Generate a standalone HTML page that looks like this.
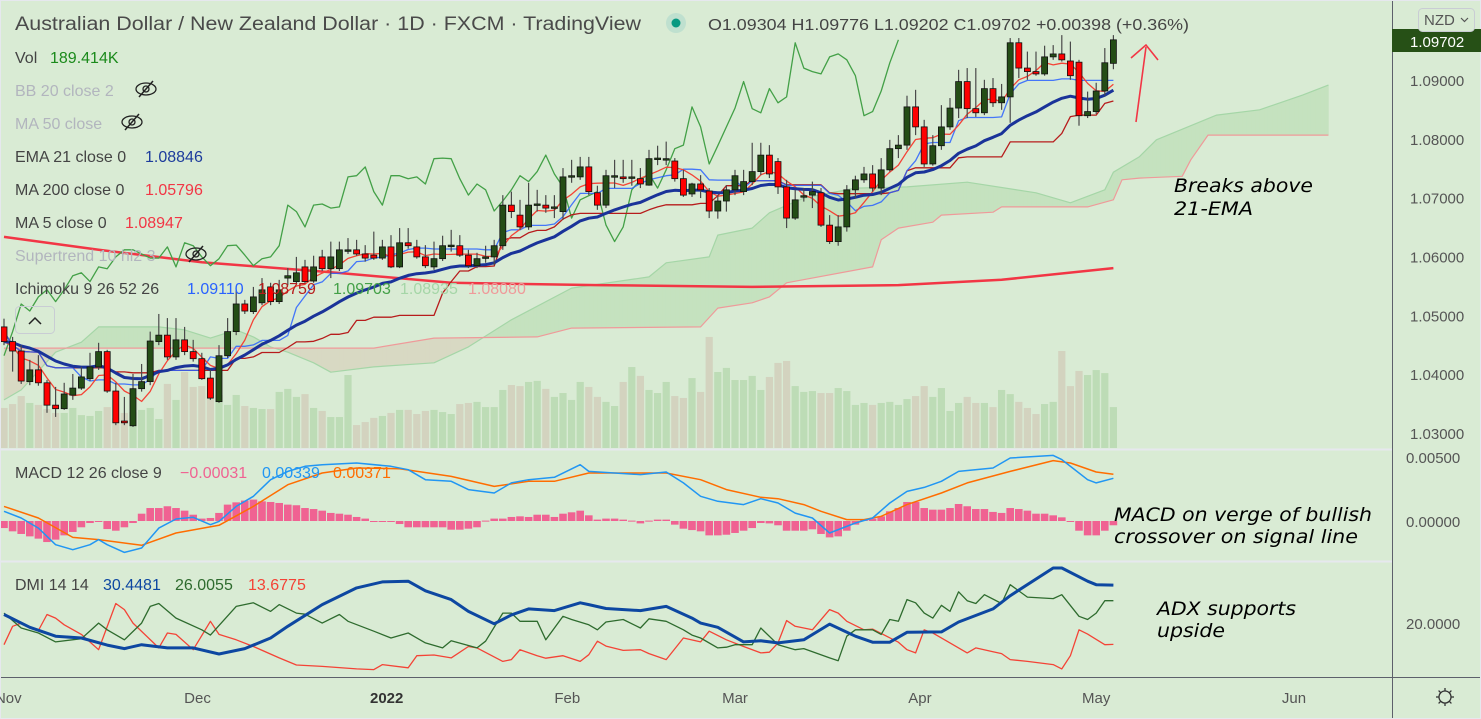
<!DOCTYPE html>
<html><head><meta charset="utf-8">
<style>
html,body{margin:0;padding:0;background:#d9ebd4;}
svg{display:block;font-family:"Liberation Sans","DejaVu Sans",sans-serif;}
</style></head>
<body>
<svg id="chart" width="1481" height="719" viewBox="0 0 1481 719" xmlns="http://www.w3.org/2000/svg">
<rect x="0" y="0" width="1481" height="719" fill="#d9ebd4"/>
<defs>
<clipPath id="mainClip"><rect x="0" y="0" width="1392" height="449"/></clipPath>
<clipPath id="macdClip"><rect x="0" y="450" width="1392" height="111"/></clipPath>
<clipPath id="dmiClip"><rect x="0" y="562" width="1392" height="115"/></clipPath>
</defs>
<g id="vol" clip-path="url(#mainClip)"></g>
<g id="cloud" clip-path="url(#mainClip)"></g>
<g id="lines" clip-path="url(#mainClip)"></g>
<g id="candles" clip-path="url(#mainClip)"></g>
<g id="macd" clip-path="url(#macdClip)"></g>
<g id="dmi" clip-path="url(#dmiClip)"></g>

<line x1="0" y1="449.5" x2="1392" y2="449.5" stroke="#e6e8ee" stroke-width="2"/>
<line x1="0" y1="561.5" x2="1392" y2="561.5" stroke="#e6e8ee" stroke-width="2"/>
<line x1="1392.5" y1="0" x2="1392.5" y2="719" stroke="#5d606b" stroke-width="1"/>
<line x1="0" y1="677.5" x2="1481" y2="677.5" stroke="#5d606b" stroke-width="1"/>
<rect x="0.5" y="0.5" width="1480" height="718" fill="none" stroke="#e6e8ee"/>

<g font-size="16" fill="#444">
<text x="15" y="30" font-size="19" fill="#4a4a4a" textLength="626" lengthAdjust="spacingAndGlyphs">Australian Dollar / New Zealand Dollar · 1D · FXCM · TradingView</text>
<circle cx="676" cy="23" r="10" fill="#bfe0cf"/>
<circle cx="676" cy="23" r="4.5" fill="#089981"/>
<text x="708" y="30" font-size="16" fill="#444" textLength="481" lengthAdjust="spacingAndGlyphs">O1.09304 H1.09776 L1.09202 C1.09702 +0.00398 (+0.36%)</text>
<text x="15" y="63"><tspan>Vol</tspan><tspan x="50" fill="#1b8a1b">189.414K</tspan></text>
<text x="15" y="96" fill="#b2b5be">BB 20 close 2</text>
<g transform="translate(146,89)"><ellipse rx="10" ry="6" fill="none" stroke="#222" stroke-width="1.3"/><circle r="3" fill="none" stroke="#222" stroke-width="1.3"/><line x1="-7" y1="8" x2="7" y2="-8" stroke="#222" stroke-width="1.5"/></g>
<text x="15" y="129" fill="#b2b5be">MA 50 close</text>
<g transform="translate(132,122)"><ellipse rx="10" ry="6" fill="none" stroke="#222" stroke-width="1.3"/><circle r="3" fill="none" stroke="#222" stroke-width="1.3"/><line x1="-7" y1="8" x2="7" y2="-8" stroke="#222" stroke-width="1.5"/></g>
<text x="15" y="162">EMA 21 close 0<tspan x="145" fill="#1c3b9c">1.08846</tspan></text>
<text x="15" y="195">MA 200 close 0<tspan x="145" fill="#f23645">1.05796</tspan></text>
<text x="15" y="228">MA 5 close 0<tspan x="125" fill="#f23645">1.08947</tspan></text>
<text x="15" y="261" fill="#b2b5be">Supertrend 10 hl2 3</text>
<g transform="translate(196,254)"><ellipse rx="10" ry="6" fill="none" stroke="#222" stroke-width="1.3"/><circle r="3" fill="none" stroke="#222" stroke-width="1.3"/><line x1="-7" y1="8" x2="7" y2="-8" stroke="#222" stroke-width="1.5"/></g>
<text x="15" y="294">Ichimoku 9 26 52 26<tspan x="187" fill="#2962ff">1.09110</tspan><tspan x="258" fill="#b71c1c">1.08759</tspan><tspan x="333" fill="#43a047">1.09703</tspan><tspan x="400" fill="#a5d6a7">1.08935</tspan><tspan x="468" fill="#ef9a9a">1.08080</tspan></text>
<rect x="15.5" y="306.5" width="39" height="27" rx="4" fill="none" stroke="#c9ccd4"/>
<path d="M29 324 L35 318 L41 324" fill="none" stroke="#222" stroke-width="1.5"/>
<text x="15" y="478">MACD 12 26 close 9<tspan x="180" fill="#f06292">−0.00031</tspan><tspan x="262" fill="#2196f3">0.00339</tspan><tspan x="333" fill="#ff6d00">0.00371</tspan></text>
<text x="15" y="590">DMI 14 14<tspan x="103" fill="#0d47a1">30.4481</tspan><tspan x="175" fill="#2e6b2e">26.0055</tspan><tspan x="248" fill="#f44336">13.6775</tspan></text>
</g>

<g font-family="DejaVu Sans, sans-serif" font-style="italic" font-size="19" fill="#000">
<text x="1174" y="192" textLength="139" lengthAdjust="spacingAndGlyphs">Breaks above</text>
<text x="1174" y="215" textLength="79" lengthAdjust="spacingAndGlyphs">21-EMA</text>
<text x="1114" y="521" textLength="258" lengthAdjust="spacingAndGlyphs">MACD on verge of bullish</text>
<text x="1114" y="543" textLength="244" lengthAdjust="spacingAndGlyphs">crossover on signal line</text>
<text x="1157" y="615" textLength="139" lengthAdjust="spacingAndGlyphs">ADX supports</text>
<text x="1157" y="637" textLength="68" lengthAdjust="spacingAndGlyphs">upside</text>
</g>
<g stroke="#f23645" stroke-width="1.6" fill="none">
<line x1="1136" y1="122" x2="1146" y2="47"/>
<path d="M1131 58 L1146 45 L1158 60"/>
</g>

<g id="paxis" font-size="15" fill="#555"></g>
<rect x="1392" y="29" width="89" height="23" fill="#265016"/>
<text x="1410" y="47" font-size="15" fill="#fff">1.09702</text>
<g>
<rect x="1418.5" y="8.5" width="56" height="23" rx="4" fill="#d9ebd4" stroke="#c9ccd4"/>
<text x="1424" y="25" font-size="15" fill="#555">NZD</text>
<path d="M1461 18 L1464.5 21.5 L1468 18" fill="none" stroke="#555" stroke-width="1.2"/>
</g>
<text x="1406" y="463" font-size="15" fill="#555">0.00500</text>
<text x="1406" y="527" font-size="15" fill="#555">0.00000</text>
<text x="1406" y="629" font-size="15" fill="#555">20.0000</text>

<g id="taxis" font-size="15" fill="#555"></g>
<g transform="translate(1445,697)" stroke="#333" stroke-width="1.3" fill="none">
<circle r="6"/>
<line x1="0" y1="-9" x2="0" y2="-6"/><line x1="0" y1="6" x2="0" y2="9"/>
<line x1="-9" y1="0" x2="-6" y2="0"/><line x1="6" y1="0" x2="9" y2="0"/>
<line x1="-6.4" y1="-6.4" x2="-4.2" y2="-4.2"/><line x1="4.2" y1="4.2" x2="6.4" y2="6.4"/>
<line x1="6.4" y1="-6.4" x2="4.2" y2="-4.2"/><line x1="-4.2" y1="4.2" x2="-6.4" y2="6.4"/>
</g>
</svg>
<script>
const openP = [1.0482,1.0457,1.0441,1.0389,1.0409,1.0387,1.0349,1.0343,1.0366,1.0378,1.0394,1.0414,1.0440,1.0373,1.0322,1.0314,1.0377,1.0389,1.0457,1.0468,1.0431,1.0460,1.0440,1.0428,1.0395,1.0355,1.0433,1.0474,1.0521,1.0508,1.0523,1.0550,1.0525,1.0565,1.0559,1.0584,1.0560,1.0601,1.0581,1.0581,1.0611,1.0613,1.0606,1.0604,1.0599,1.0618,1.0584,1.0625,1.0618,1.0601,1.0584,1.0598,1.0620,1.0620,1.0604,1.0586,1.0599,1.0601,1.0620,1.0689,1.0672,1.0652,1.0689,1.0689,1.0684,1.0678,1.0737,1.0737,1.0754,1.0710,1.0689,1.0737,1.0737,1.0735,1.0734,1.0723,1.0768,1.0766,1.0764,1.0734,1.0708,1.0725,1.0713,1.0679,1.0696,1.0715,1.0712,1.0729,1.0746,1.0774,1.0763,1.0720,1.0667,1.0703,1.0706,1.0710,1.0655,1.0627,1.0652,1.0715,1.0732,1.0742,1.0718,1.0749,1.0785,1.0791,1.0856,1.0822,1.0759,1.0790,1.0822,1.0854,1.0899,1.0853,1.0846,1.0887,1.0863,1.0873,1.0965,1.0922,1.0916,1.0912,1.0941,1.0946,1.0934,1.0932,1.0841,1.0848,1.0883,1.0930];
const closeP = [1.0457,1.0441,1.0390,1.0409,1.0387,1.0349,1.0343,1.0368,1.0378,1.0397,1.0414,1.0440,1.0373,1.0319,1.0319,1.0377,1.0389,1.0458,1.0468,1.0431,1.0460,1.0440,1.0428,1.0394,1.0361,1.0433,1.0474,1.0521,1.0509,1.0533,1.0545,1.0525,1.0545,1.0569,1.0574,1.0559,1.0584,1.0581,1.0601,1.0613,1.0613,1.0606,1.0599,1.0599,1.0618,1.0584,1.0625,1.0620,1.0601,1.0586,1.0598,1.0620,1.0621,1.0604,1.0586,1.0598,1.0601,1.0620,1.0689,1.0678,1.0652,1.0689,1.0691,1.0684,1.0686,1.0737,1.0739,1.0754,1.0712,1.0689,1.0739,1.0739,1.0734,1.0737,1.0725,1.0768,1.0769,1.0768,1.0734,1.0706,1.0725,1.0715,1.0679,1.0696,1.0715,1.0739,1.0729,1.0746,1.0774,1.0742,1.0720,1.0667,1.0698,1.0705,1.0712,1.0655,1.0627,1.0652,1.0715,1.0732,1.0742,1.0718,1.0749,1.0785,1.0791,1.0856,1.0822,1.0759,1.0790,1.0822,1.0854,1.0899,1.0853,1.0846,1.0887,1.0863,1.0873,1.0965,1.0922,1.0916,1.0912,1.0941,1.0946,1.0936,1.0909,1.0841,1.0848,1.0883,1.0931,1.0970];
const highP = [1.0496,1.0465,1.0451,1.0426,1.0434,1.0392,1.0380,1.0387,1.0402,1.0414,1.0438,1.0455,1.0443,1.0387,1.0363,1.0402,1.0419,1.0474,1.0504,1.0497,1.0497,1.0482,1.0460,1.0438,1.0409,1.0451,1.0497,1.0545,1.0528,1.0550,1.0565,1.0557,1.0562,1.0582,1.0601,1.0596,1.0603,1.0613,1.0627,1.0627,1.0633,1.0630,1.0621,1.0644,1.0630,1.0638,1.0650,1.0650,1.0630,1.0621,1.0627,1.0637,1.0647,1.0638,1.0613,1.0608,1.0620,1.0630,1.0706,1.0712,1.0698,1.0727,1.0715,1.0706,1.0706,1.0752,1.0766,1.0771,1.0771,1.0722,1.0749,1.0766,1.0766,1.0766,1.0752,1.0783,1.0790,1.0797,1.0769,1.0749,1.0727,1.0740,1.0718,1.0706,1.0723,1.0749,1.0749,1.0795,1.0795,1.0791,1.0769,1.0732,1.0715,1.0718,1.0729,1.0718,1.0672,1.0672,1.0723,1.0739,1.0754,1.0757,1.0769,1.0800,1.0808,1.0875,1.0885,1.0834,1.0808,1.0859,1.0871,1.0919,1.0922,1.0922,1.0902,1.0905,1.0895,1.0973,1.0973,1.0950,1.0950,1.0960,1.0961,1.0978,1.0967,1.0936,1.0882,1.0897,1.0956,1.0978];
const lowP = [1.0451,1.0406,1.0385,1.0383,1.0382,1.0336,1.0329,1.0341,1.0358,1.0375,1.0390,1.0409,1.0370,1.0315,1.0315,1.0312,1.0372,1.0383,1.0451,1.0426,1.0426,1.0434,1.0423,1.0392,1.0358,1.0353,1.0429,1.0468,1.0504,1.0504,1.0519,1.0519,1.0521,1.0553,1.0555,1.0555,1.0557,1.0577,1.0565,1.0577,1.0606,1.0603,1.0593,1.0596,1.0596,1.0582,1.0582,1.0615,1.0598,1.0582,1.0579,1.0594,1.0610,1.0601,1.0582,1.0582,1.0591,1.0587,1.0613,1.0667,1.0647,1.0647,1.0678,1.0676,1.0667,1.0664,1.0727,1.0732,1.0706,1.0681,1.0684,1.0718,1.0727,1.0722,1.0718,1.0722,1.0757,1.0757,1.0729,1.0703,1.0703,1.0701,1.0667,1.0666,1.0678,1.0706,1.0706,1.0723,1.0740,1.0735,1.0708,1.0650,1.0664,1.0695,1.0684,1.0652,1.0623,1.0620,1.0644,1.0701,1.0727,1.0712,1.0706,1.0746,1.0769,1.0783,1.0808,1.0754,1.0756,1.0783,1.0817,1.0837,1.0837,1.0839,1.0842,1.0856,1.0851,1.0829,1.0905,1.0902,1.0909,1.0909,1.0936,1.0933,1.0902,1.0824,1.0837,1.0844,1.0875,1.0920];
const volumeK = [185,203,240,208,199,180,162,162,185,152,148,171,189,139,162,166,176,185,134,296,222,351,282,286,254,245,199,245,194,185,180,180,259,273,236,249,185,171,143,143,337,106,120,
139,148,162,176,176,157,171,176,166,157,203,208,213,189,189,268,291,286,305,310,273,236,254,222,305,282,236,213,194,305,374,333,268,254,305,240,231,323,259,513,351,370,314,
314,333,268,328,393,402,286,259,263,254,254,277,263,199,208,199,208,213,199,226,240,286,236,277,171,208,236,208,208,189,268,249,213,185,157,203,213,448,286,356,337,360,346,189];
const spanAIdx = [0,2,6,9,11,18,21,24,27,29,31,33,36,38,43,50,54,59,66,75,77,82,83,87,89,93,99,105,112,120,124,128,129,132,134,141,146,151,154];
const spanAVal = [1.0358,1.0375,1.0439,1.0456,1.0482,1.0482,1.0477,1.0463,1.0477,1.0465,1.0448,1.0439,1.0421,1.0405,1.0414,1.0421,1.0448,1.0494,1.0548,1.0567,1.0591,1.0601,1.0638,1.0650,1.0676,1.0701,1.0718,1.0720,1.0728,1.0710,1.0693,1.0715,1.0745,1.0771,1.0800,1.0842,1.0851,1.0876,1.0893];
const spanBIdx = [0,43,50,62,66,81,83,87,89,91,101,102,104,108,109,115,116,126,129,130,132,137,138,140,154];
const spanBVal = [1.0446,1.0446,1.0463,1.0465,1.0480,1.0482,1.0514,1.0523,1.0533,1.0557,1.0584,1.0630,1.0650,1.0660,1.0672,1.0677,1.0686,1.0686,1.0698,1.0732,1.0735,1.0738,1.0766,1.0808,1.0808];
const ma200Idx = [0,11,23,38,52,69,87,104,116,129];
const ma200Val = [1.0635,1.0613,1.0592,1.0575,1.0557,1.0553,1.0550,1.0553,1.0562,1.0582];
const macdHist = [-0.00056,-0.00082,-0.00103,-0.00122,-0.00140,-0.00167,-0.00148,-0.00114,-0.00087,-0.00050,-0.00016,-0.00003,-0.00064,-0.00077,-0.00050,-0.00016,0.00058,0.00103,0.00103,0.00117,0.00103,0.00082,0.00050,0.00019,0.00024,0.00064,0.00130,0.00148,0.00162,0.00170,0.00156,0.00151,0.00143,0.00130,0.00125,0.00103,0.00095,0.00082,0.00064,0.00058,0.00050,0.00032,0.00019,-0.00008,-0.00003,-0.00003,-0.00024,-0.00050,-0.00050,-0.00050,-0.00050,-0.00050,-0.00069,-0.00069,-0.00061,-0.00050,0.00003,0.00019,0.00019,0.00032,0.00037,0.00032,0.00050,0.00050,
0.00032,0.00058,0.00069,0.00082,0.00045,0.00011,0.00019,0.00019,0.00011,0.00003,-0.00019,0.00003,0.00011,0.00011,-0.00029,-0.00061,-0.00072,-0.00082,-0.00114,-0.00114,-0.00109,-0.00095,-0.00077,-0.00056,-0.00016,-0.00019,-0.00034,-0.00077,-0.00077,-0.00077,-0.00066,-0.00103,-0.00130,-0.00122,-0.00077,-0.00029,0.00011,0.00019,0.00037,0.00077,0.00103,0.00151,0.00151,0.00103,0.00090,0.00090,0.00103,0.00135,0.00117,0.00095,0.00095,0.00072,0.00064,0.00103,0.00095,0.00082,0.00058,0.00058,0.00045,0.00029,-0.00003,-0.00077,-0.00114,-0.00114,-0.00077,-0.00034];
const macdIdx = [0,2,4,6,8,10,11,12,14,16,18,20,22,24,25,27,29,31,33,35,37,41,45,47,49,52,54,57,59,61,64,67,68,74,77,79,81,83,86,88,90,92,94,96,99,101,103,105,107,109,111,115,117,122,123,126,127,129];
const macdVal = [0.00077,0.00024,-0.00056,-0.00188,-0.00228,-0.00188,-0.00148,-0.00188,-0.00249,-0.00214,-0.00056,0.00016,0.00029,-0.00029,-0.00003,0.00116,0.00196,0.00328,0.00394,0.00434,0.00447,0.00460,0.00434,0.00407,0.00328,0.00315,0.00249,0.00222,0.00302,0.00328,0.00347,0.00447,0.00394,0.00368,0.00389,0.00302,0.00196,0.00156,0.00130,0.00177,0.00143,0.00063,0.00024,-0.00095,-0.00016,0.00024,0.00143,0.00235,0.00267,0.00315,0.00394,0.00421,0.00500,0.00521,0.00487,0.00328,0.00302,0.00339];
const signalIdx = [0,4,8,11,16,20,25,29,33,37,41,46,52,57,61,64,68,77,81,84,88,90,93,95,98,100,102,105,109,112,117,122,124,127,129];
const signalVal = [0.00116,0.00024,-0.00130,-0.00148,-0.00193,-0.00095,-0.00034,0.00116,0.00288,0.00381,0.00421,0.00415,0.00354,0.00275,0.00315,0.00315,0.00381,0.00381,0.00328,0.00249,0.00188,0.00177,0.00130,0.00077,0.00011,0.00011,0.00037,0.00130,0.00222,0.00302,0.00394,0.00479,0.00460,0.00389,0.00371];
const adxIdx = [0,3,6,9,12,14,16,19,22,25,28,31,33,37,41,44,47,49,52,54,57,59,61,64,67,68,70,74,77,80,81,83,86,88,90,93,96,99,101,103,105,109,111,115,117,122,123,126,127,129];
const adxVal = [22.1,18.5,16.0,15.5,13.5,12.5,13.6,12.7,12.7,11.0,12.5,15.5,18.8,24.9,29.6,31.3,31.5,28.8,26.3,23.0,19.5,22.0,23.7,23.2,25.4,24.9,23.8,23.2,24.4,21.1,19.7,18.5,14.4,14.7,14.1,15.0,19.4,16.0,14.3,14.3,17.1,17.2,20.0,23.7,27.4,35.2,35.2,31.5,30.5,30.4];
const plusDIIdx = [0,2,4,6,9,11,12,14,16,17,18,20,23,24,27,29,31,32,34,35,37,39,40,43,45,47,49,51,52,55,56,58,59,60,62,63,65,66,68,69,70,72,74,75,77,79,80,81,83,84,85,87,88,90,92,93,96,97,98,99,101,102,103,104,105,106,107,108,109,110,111,112,113,114,116,117,119,122,123,125,126,127,128,129];
const plusDIVal = [22.5,18.3,16.9,14.4,15.3,19.7,17.8,15.0,19.7,24.4,25.2,21.1,17.8,16.3,24.4,25.4,23.0,24.9,22.5,22.2,19.7,22.1,20.2,17.4,15.5,16.9,14.1,12.7,14.7,12.7,14.6,22.5,22.5,20.2,20.2,15.0,21.6,20.7,19.2,17.8,20.0,20.7,18.3,20.9,20.2,17.8,16.3,15.5,12.7,12.9,13.6,13.6,18.3,13.6,12.2,12.5,9.9,9.1,16.0,17.8,17.8,16.5,20.7,20.2,26.3,25.4,22.5,21.1,24.7,23.0,28.5,26.0,25.2,27.7,25.2,30.5,27.0,26.6,27.7,21.6,20.7,22.5,26.0,26.0];
const minusDIIdx = [0,1,2,4,5,6,7,9,11,13,14,15,18,19,20,22,24,25,27,29,32,34,37,41,43,44,47,48,50,52,54,55,58,59,60,62,63,65,67,68,69,70,72,74,75,77,79,81,82,84,86,88,89,90,91,92,94,96,97,98,100,101,104,105,106,107,108,110,112,113,115,116,117,119,122,123,124,125,126,128,129];
const minusDIVal = [13.6,18.8,19.7,17.6,22.1,21.1,19.2,16.5,12.2,25.2,23.5,19.7,12.7,16.9,16.5,12.2,20.2,16.5,15.0,13.1,9.9,7.9,7.5,6.8,6.6,8.0,7.1,10.5,10.7,9.9,13.1,12.7,8.9,9.4,12.2,10.5,9.8,10.5,8.9,10.8,14.6,13.2,12.0,12.2,11.1,9.4,15.5,14.4,17.4,15.0,13.1,11.3,11.5,14.1,20.4,18.8,17.8,23.5,22.5,20.2,17.8,18.0,14.3,12.2,11.3,17.8,16.9,14.1,11.3,12.7,11.6,11.1,9.4,8.9,8.0,6.8,10.5,17.8,16.6,13.6,13.7];
const priceTicks = [1.09,1.08,1.07,1.06,1.05,1.04,1.03];
const timeLabels = ["Nov","Dec","2022","Feb","Mar","Apr","May","Jun"];
const timeIdx = [0.5,22.5,44.5,65.5,85,106.5,127,150];

const xAt = i => 4 + 8.6 * i;
const yP = p => 81 + (1.09 - p) * 5883;
const yM = v => 521 - v * 12600;
const yD = v => 622 - (v - 20) * 3.55;
const NS = "http://www.w3.org/2000/svg";
function mk(tag, attrs, parent) {
  const e = document.createElementNS(NS, tag);
  for (const k in attrs) e.setAttribute(k, attrs[k]);
  parent.appendChild(e);
  return e;
}
function polyline(idx, vals, yf, color, w, parent, name, op) {
  const pts = idx.map((i, k) => xAt(i).toFixed(1) + "," + yf(vals[k]).toFixed(1)).join(" ");
  const el = mk("polyline", {points: pts, fill: "none", stroke: color, "stroke-width": w, "stroke-linejoin": "round", opacity: op || 1}, parent);
  
  
  return el;
}
const N = closeP.length;
const allIdx = closeP.map((_, i) => i);

const volG = document.getElementById("vol");
for (let i = 0; i < N; i++) {
  const h = volumeK[i] * 0.2165;
  const up = closeP[i] >= openP[i];
  const r = mk("rect", {x: xAt(i) - 3.6, y: 448 - h, width: 7.2, height: h, fill: up ? "#bddcb6" : "#d3d3bf"}, volG);
  
  
}

function interp(idxA, valA, i) {
  if (i <= idxA[0]) return valA[0];
  for (let k = 1; k < idxA.length; k++) {
    if (i <= idxA[k]) { const t = (i - idxA[k-1]) / (idxA[k] - idxA[k-1]); return valA[k-1] + t * (valA[k] - valA[k-1]); }
  }
  return valA[valA.length - 1];
}
const cloudG = document.getElementById("cloud");
const lastCloud = 154;
for (let i = 0; i < lastCloud; i += 0.5) {
  const a0 = interp(spanAIdx, spanAVal, i), b0 = interp(spanBIdx, spanBVal, i);
  const a1 = interp(spanAIdx, spanAVal, i + 0.5), b1 = interp(spanBIdx, spanBVal, i + 0.5);
  const green = (a0 + a1) >= (b0 + b1);
  const x0 = xAt(i), x1 = xAt(i + 0.5);
  const p = mk("polygon", {points: `${x0},${yP(a0)} ${x1},${yP(a1)} ${x1},${yP(b1)} ${x0},${yP(b0)}`, fill: green ? "#c5e2bf" : "#d8d9c3", stroke: green ? "#c5e2bf" : "#d8d9c3", "stroke-width": 0.6}, cloudG);
  
  
}
polyline(spanAIdx, spanAVal, yP, "#a5d6a7", 1.2, cloudG, "senkou-span-a");
polyline(spanBIdx, spanBVal, yP, "#ef9a9a", 1.2, cloudG, "senkou-span-b");

const linesG = document.getElementById("lines");
polyline(ma200Idx, ma200Val, yP, "#f23645", 2.5, linesG, "ma200-line");
const tenkan = [], kijun = [], ma5 = [], ema21 = [];
for (let i = 0; i < N; i++) {
  const hl = n => { const s = Math.max(0, i - n + 1); return (Math.max(...highP.slice(s, i + 1)) + Math.min(...lowP.slice(s, i + 1))) / 2; };
  tenkan.push(hl(9)); kijun.push(hl(26));
  const s5 = Math.max(0, i - 4); const w = closeP.slice(s5, i + 1); ma5.push(w.reduce((a, b) => a + b, 0) / w.length);
  ema21.push(i === 0 ? closeP[0] : ema21[i - 1] + (2 / 22) * (closeP[i] - ema21[i - 1]));
}
const chikouIdx = allIdx.slice(25).map(i => i - 25);
const chikouVal = closeP.slice(25);
polyline(chikouIdx, chikouVal, yP, "#43a047", 1.3, linesG, "chikou-span");
polyline(allIdx, kijun, yP, "#b71c1c", 1.3, linesG, "kijun-sen");
polyline(allIdx, tenkan, yP, "#2962ff", 1.3, linesG, "tenkan-sen", 0.85);
polyline(allIdx, ma5, yP, "#f44336", 1.3, linesG, "ma5-line");
polyline(allIdx, ema21, yP, "#1a3399", 3, linesG, "ema21-line");

const cG = document.getElementById("candles");
for (let i = 0; i < N; i++) {
  const x = xAt(i), o = openP[i], c = closeP[i];
  const hi = Math.max(highP[i], o, c), lo = Math.min(lowP[i], o, c);
  const up = c >= o;
  const g = mk("g", {}, cG);
  
  
  mk("line", {x1: x, x2: x, y1: yP(hi), y2: yP(lo), stroke: "#4a4a4a", "stroke-width": 1.2}, g);
  const top = yP(Math.max(o, c)), bh = Math.max(1.5, Math.abs(yP(o) - yP(c)));
  mk("rect", {x: x - 3, y: top, width: 6, height: bh, fill: up ? "#244d16" : "#ff0000", stroke: "#111", "stroke-width": 0.8}, g);
}

const mG = document.getElementById("macd");
for (let i = 0; i < macdHist.length; i++) {
  const v = macdHist[i], y0 = yM(0), y1 = yM(v);
  const r = mk("rect", {x: xAt(i) - 3.8, y: Math.min(y0, y1), width: 7.6, height: Math.max(1, Math.abs(y1 - y0)), fill: "#f06292"}, mG);
  
  
}
polyline(signalIdx, signalVal, yM, "#ff6d00", 1.5, mG, "macd-signal-line");
polyline(macdIdx, macdVal, yM, "#2196f3", 1.5, mG, "macd-line");

const dG = document.getElementById("dmi");
polyline(minusDIIdx, minusDIVal, yD, "#f44336", 1.3, dG, "minus-di-line");
polyline(plusDIIdx, plusDIVal, yD, "#2e6b2e", 1.3, dG, "plus-di-line");
polyline(adxIdx, adxVal, yD, "#0d47a1", 3, dG, "adx-line");

const pa = document.getElementById("paxis");
priceTicks.forEach(p => {
  const t = mk("text", {x: 1410, y: yP(p) + 5}, pa);
  t.textContent = p.toFixed(5);
  
  
});
const ta = document.getElementById("taxis");
timeLabels.forEach((s, k) => {
  const attrs = {x: xAt(timeIdx[k]), y: 703, "text-anchor": "middle"};
  if (s === "2022") { attrs["font-weight"] = "bold"; attrs.fill = "#333"; }
  const t = mk("text", attrs, ta);
  t.textContent = s;
  
  
});
</script>
</body></html>
